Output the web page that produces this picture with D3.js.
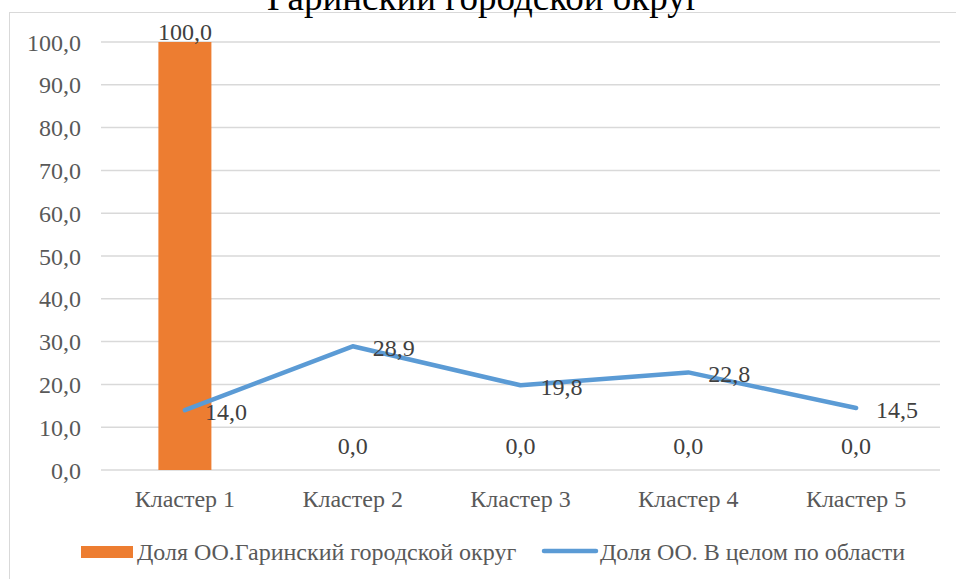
<!DOCTYPE html>
<html><head><meta charset="utf-8">
<script src="https://cdn.jsdelivr.net/npm/d3@7/dist/d3.min.js"></script>
<style>body{margin:0;background:#fff}svg{display:block}</style>
</head><body><svg id="c" width="956" height="579"></svg>
<script>
const title = "Гаринский городской округ";
const categories = ["Кластер 1","Кластер 2","Кластер 3","Кластер 4","Кластер 5"];
const barValues = [100.0, 0.0, 0.0, 0.0, 0.0];
const lineValues = [14.0, 28.9, 19.8, 22.8, 14.5];
const yTicks = [0,10,20,30,40,50,60,70,80,90,100];
const barName = "Доля ОО.Гаринский городской округ";
const lineName = "Доля ОО. В целом по области";

(function(){
const svg = d3.select("#c");
const font = "'Liberation Serif','Times New Roman',serif";
const fs = 24;
const fmt = v => d3.format(".1f")(v).replace(".", ",");
const pL = 101, pR = 940, pT = 42, pB = 470;

svg.append("rect").attr("x",9.5).attr("y",12.5).attr("width",1000).attr("height",1000)
  .attr("fill","#fff").attr("stroke","#d9d9d9").attr("stroke-width",1);

const x = d3.scaleBand().domain(categories).range([pL,pR]).paddingInner(0).paddingOuter(0);
const y = d3.scaleLinear().domain([0,100]).range([pB,pT]);

svg.append("g").selectAll("line").data(yTicks).join("line")
  .attr("x1",pL).attr("x2",pR).attr("y1",d=>y(d)).attr("y2",d=>y(d))
  .attr("stroke","#d9d9d9").attr("stroke-width",1.5);

const yAxis = d3.axisLeft(y).tickValues(yTicks).tickFormat(fmt).tickSize(0).tickPadding(0);
const ya = svg.append("g").attr("transform",`translate(81,0)`).call(yAxis);
ya.select(".domain").remove();
ya.selectAll("text").attr("dy","0.34em").attr("font-family",font).attr("font-size",fs).attr("fill","#595959");

const xAxis = d3.axisBottom(x).tickSize(0).tickPadding(0);
const xa = svg.append("g").attr("transform",`translate(0,${pB})`).call(xAxis);
xa.select(".domain").remove();
xa.selectAll("text").attr("y",37).attr("dy",null).attr("font-family",font).attr("font-size",fs).attr("fill","#595959");

const bw = 53;
svg.append("g").selectAll("rect").data(barValues).join("rect")
  .attr("x",(d,i)=>x(categories[i])+x.bandwidth()/2-bw/2)
  .attr("width",bw)
  .attr("y",d=>y(d)).attr("height",d=>pB-y(d))
  .attr("fill","#ED7D31");

svg.append("g").selectAll("text").data(barValues).join("text")
  .attr("x",(d,i)=>x(categories[i])+x.bandwidth()/2)
  .attr("y",d=>Math.max(y(d)-16, 40))
  .attr("text-anchor","middle")
  .attr("font-family",font).attr("font-size",fs).attr("fill","#404040")
  .text(fmt);

const cx = i => x(categories[i])+x.bandwidth()/2;
const line = d3.line().x((d,i)=>cx(i)).y(d=>y(d));
svg.append("path").datum(lineValues).attr("d",line)
  .attr("fill","none").attr("stroke","#5B9BD5").attr("stroke-width",4.5)
  .attr("stroke-linecap","round").attr("stroke-linejoin","round");

svg.append("g").selectAll("text").data(lineValues).join("text")
  .attr("x",(d,i)=>cx(i)+20)
  .attr("y",d=>y(d)+10)
  .attr("font-family",font).attr("font-size",fs).attr("fill","#404040")
  .text(fmt);

svg.append("text").attr("x",484).attr("y",10).attr("text-anchor","middle")
  .attr("font-family",font).attr("font-size",37).attr("fill","#000").text(title);

const lg = svg.append("g");
lg.append("rect").attr("x",81).attr("y",546).attr("width",52).attr("height",12).attr("fill","#ED7D31");
lg.append("text").attr("x",137).attr("y",560)
  .attr("font-family",font).attr("font-size",fs).attr("fill","#595959").text(barName);
lg.append("line").attr("x1",544).attr("x2",596).attr("y1",551).attr("y2",551)
  .attr("stroke","#5B9BD5").attr("stroke-width",4.5).attr("stroke-linecap","round");
lg.append("text").attr("x",600).attr("y",560)
  .attr("font-family",font).attr("font-size",fs).attr("fill","#595959").text(lineName);
})();
</script></body></html>
